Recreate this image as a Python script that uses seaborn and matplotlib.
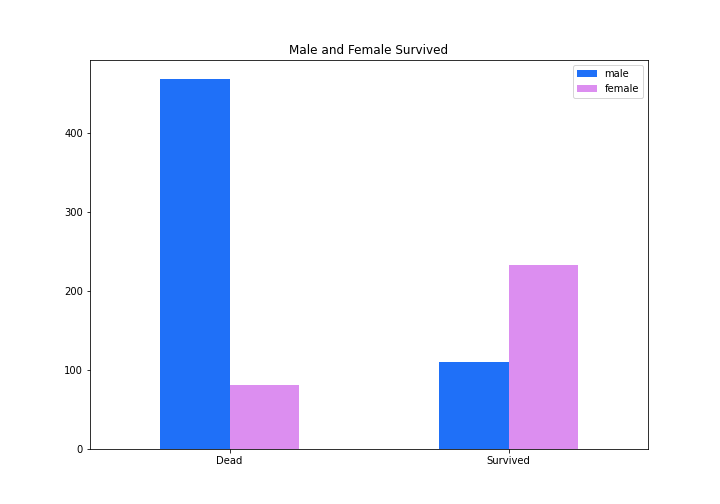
import matplotlib
matplotlib.use("Agg")
import matplotlib.pyplot as plt
import pandas as pd
import seaborn as sns

# 数据：泰坦尼克号按性别统计的生还情况
outcomes = ["Dead", "Survived"]
male_counts = [468, 109]
female_counts = [81, 233]
sexes = ["male", "female"]
colors = ["#1f70f8", "#dc8ef0"]

df = pd.DataFrame({
    "outcome": outcomes * 2,
    "sex": ["male"] * 2 + ["female"] * 2,
    "count": male_counts + female_counts,
})

fig, ax = plt.subplots(figsize=(10, 7), dpi=72)
sns.barplot(data=df, x="outcome", y="count", hue="sex", hue_order=sexes,
            palette=colors, saturation=1, width=0.5, ax=ax)
ax.set_xlim(-0.5, 1.5)
ax.set_xlabel("")
ax.set_ylabel("")
ax.set_title("Male and Female Survived")
ax.legend(loc="upper right", title=None)
plt.savefig("out.png", dpi=72)
plt.close()
